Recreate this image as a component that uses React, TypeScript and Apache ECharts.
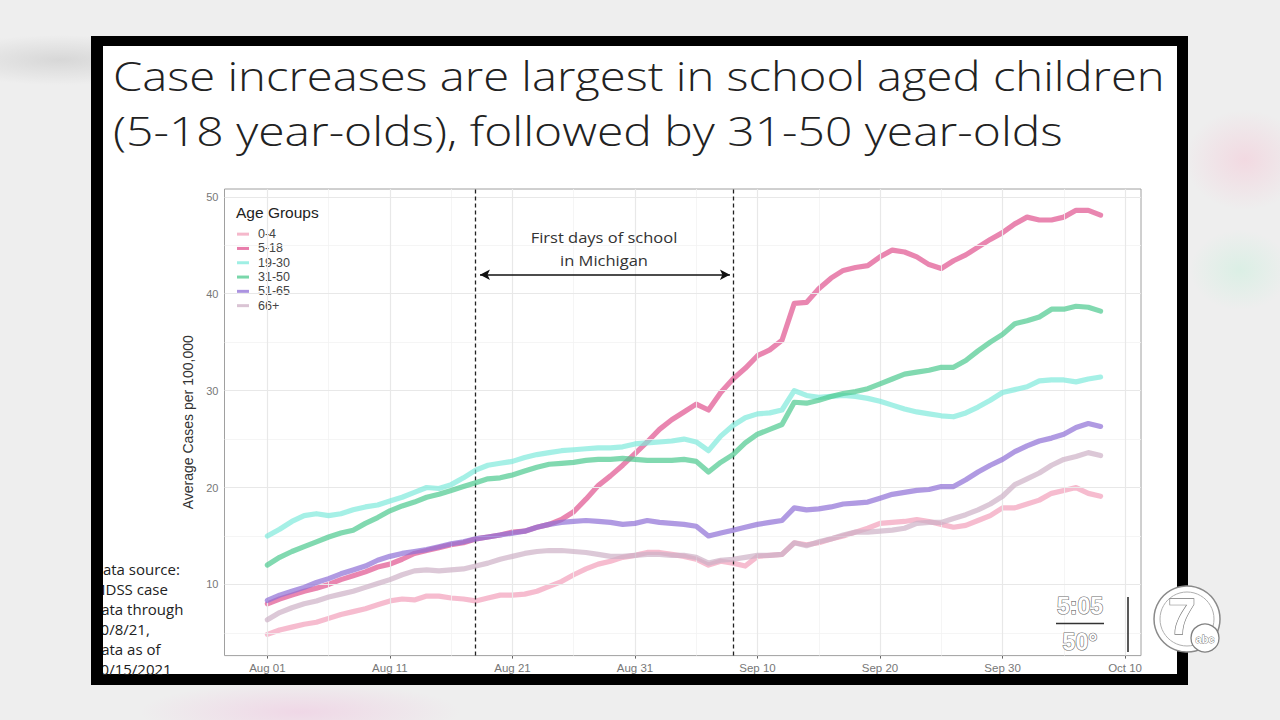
import React, { useEffect, useRef } from "react";
import * as echarts from "echarts";

// ---------- data ----------
const startDate = "2021-08-01"; // day 0
const xTickDays = [0, 10, 20, 30, 40, 50, 60, 70];
const xTickLabels = ["Aug 01", "Aug 11", "Aug 21", "Aug 31", "Sep 10", "Sep 20", "Sep 30", "Oct 10"];
const yTicks = [10, 20, 30, 40, 50];
const groups = ["0-4", "5-18", "19-30", "31-50", "51-65", "66+"];
const groupColors = ["#f2a0ba", "#e0528f", "#7feadb", "#4cc98e", "#8f6fd6", "#cdb0c6"];

const age0_4 = [
  4.85, 5.3, 5.6, 5.9, 6.1, 6.5, 6.9, 7.2, 7.5, 7.9,
  8.3, 8.5, 8.4, 8.8, 8.8, 8.6, 8.5, 8.3, 8.6, 8.9,
  8.9, 9.0, 9.3, 9.8, 10.3, 11.0, 11.6, 12.1, 12.4, 12.8,
  13.0, 13.3, 13.3, 13.1, 12.9, 12.6, 12.0, 12.4, 12.2, 11.9,
  12.9, 13.0, 13.1, 14.3, 14.1, 14.3, 14.7, 15.0, 15.4, 15.8,
  16.3, 16.4, 16.5, 16.7, 16.5, 16.2, 15.9, 16.1, 16.6, 17.1,
  17.9, 17.9, 18.3, 18.7, 19.4, 19.7, 20.0, 19.4, 19.1,
];
const age5_18 = [
  8.0, 8.5, 8.9, 9.3, 9.6, 10.0, 10.5, 10.9, 11.3, 11.8,
  12.1, 12.6, 13.2, 13.5, 13.8, 14.1, 14.3, 14.7, 14.9, 15.1,
  15.4, 15.5, 15.9, 16.2, 16.7, 17.5, 18.8, 20.2, 21.2, 22.3,
  23.5, 24.7, 26.0, 27.0, 27.8, 28.6, 28.0, 29.8, 31.2, 32.3,
  33.6, 34.2, 35.2, 39.0, 39.1, 40.5, 41.6, 42.4, 42.7, 42.9,
  43.8, 44.5, 44.3, 43.8, 43.0, 42.6, 43.4, 44.0, 44.8, 45.6,
  46.3, 47.2, 47.9, 47.6, 47.6, 47.9, 48.6, 48.6, 48.1,
];
const age19_30 = [
  15.0, 15.7, 16.5, 17.1, 17.3, 17.1, 17.3, 17.7, 18.0, 18.2,
  18.6, 19.0, 19.5, 20.0, 19.9, 20.3, 21.0, 21.8, 22.3, 22.5,
  22.7, 23.1, 23.4, 23.6, 23.8, 23.9, 24.0, 24.1, 24.1, 24.2,
  24.5, 24.6, 24.7, 24.8, 25.0, 24.7, 23.8, 25.3, 26.4, 27.2,
  27.6, 27.7, 28.0, 30.0, 29.5, 29.3, 29.4, 29.5, 29.4, 29.2,
  28.9, 28.5, 28.1, 27.8, 27.6, 27.4, 27.3, 27.7, 28.3, 29.0,
  29.8, 30.1, 30.4, 31.0, 31.1, 31.1, 30.9, 31.2, 31.4,
];
const age31_50 = [
  12.0, 12.8, 13.4, 13.9, 14.4, 14.9, 15.3, 15.6, 16.3, 16.9,
  17.6, 18.1, 18.5, 19.0, 19.3, 19.7, 20.1, 20.5, 20.9, 21.0,
  21.3, 21.7, 22.1, 22.4, 22.5, 22.6, 22.8, 22.9, 22.9, 23.0,
  22.9, 22.8, 22.8, 22.8, 22.9, 22.7, 21.6, 22.6, 23.4, 24.6,
  25.5, 26.0, 26.5, 28.8, 28.7, 29.0, 29.4, 29.7, 29.9, 30.2,
  30.7, 31.2, 31.7, 31.9, 32.1, 32.4, 32.4, 33.1, 34.1, 35.0,
  35.8, 36.9, 37.2, 37.6, 38.4, 38.4, 38.7, 38.6, 38.2,
];
const age51_65 = [
  8.35, 8.9, 9.3, 9.7, 10.2, 10.6, 11.1, 11.5, 11.9, 12.5,
  12.9, 13.2, 13.4, 13.6, 13.9, 14.2, 14.4, 14.7, 14.9, 15.1,
  15.3, 15.5, 15.9, 16.2, 16.4, 16.5, 16.6, 16.5, 16.4, 16.2,
  16.3, 16.6, 16.4, 16.3, 16.2, 16.0, 15.0, 15.3, 15.6, 15.9,
  16.2, 16.4, 16.6, 17.9, 17.7, 17.8, 18.0, 18.3, 18.4, 18.5,
  18.9, 19.3, 19.5, 19.7, 19.8, 20.1, 20.1, 20.8, 21.6, 22.3,
  22.9, 23.7, 24.3, 24.8, 25.1, 25.5, 26.2, 26.6, 26.3,
];
const age66plus = [
  6.35, 7.1, 7.6, 8.0, 8.3, 8.7, 9.0, 9.3, 9.7, 10.1,
  10.5, 11.0, 11.4, 11.5, 11.4, 11.5, 11.6, 11.9, 12.2, 12.6,
  12.9, 13.2, 13.4, 13.5, 13.5, 13.4, 13.3, 13.1, 12.9, 12.9,
  13.0, 13.1, 13.1, 13.0, 13.0, 12.8, 12.2, 12.5, 12.6, 12.8,
  13.0, 13.0, 13.1, 14.3, 14.0, 14.4, 14.7, 15.1, 15.4, 15.4,
  15.5, 15.6, 15.8, 16.3, 16.4, 16.4, 16.8, 17.2, 17.7, 18.3,
  19.1, 20.3, 20.9, 21.5, 22.3, 22.9, 23.2, 23.6, 23.3,
];
const seriesValues = [age0_4, age5_18, age19_30, age31_50, age51_65, age66plus];

// school period (days since Aug 01): Aug 18 -> Sep 08
const schoolStartDay = 17;
const schoolEndDay = 38;
const arrowFrom = 17.35;
const arrowTo = 37.75;
const arrowLevel = 41.95;

const titleLines = [
  "Case increases are largest in school aged children",
  "(5-18 year-olds), followed by 31-50 year-olds",
];
const sourceText = "Data source:\nMDSS case\ndata through\n10/8/21,\ndata as of\n10/15/2021";

export default function App() {
  const ref = useRef<HTMLDivElement>(null);

  useEffect(() => {
    const chart = echarts.init(ref.current!, undefined, { renderer: "svg" });

    const majorX = xTickDays;
    const minorX = xTickDays.slice(0, -1).map((d) => d + 5);
    const majorY = yTicks;
    const minorY = [5, 15, 25, 35, 45];

    const gridLines = [
      ...minorX.map((d) => ({ xAxis: d, lineStyle: { color: "#f3f3f3", width: 0.8, type: "solid" } })),
      ...minorY.map((v) => ({ yAxis: v, lineStyle: { color: "#f3f3f3", width: 0.8, type: "solid" } })),
      ...majorX.map((d) => ({ xAxis: d, lineStyle: { color: "#e8e8e8", width: 1.2, type: "solid" } })),
      ...majorY.map((v) => ({ yAxis: v, lineStyle: { color: "#e8e8e8", width: 1.2, type: "solid" } })),
    ];

    const dataSeries = groups.map((g, i) => ({
      name: g,
      type: "line",
      data: seriesValues[i].map((v, d) => [d, v]),
      showSymbol: false,
      symbol: "none",
      silent: true,
      z: 3 + i,
      itemStyle: { color: groupColors[i], opacity: 0.75 },
      lineStyle: { width: 5.2, color: groupColors[i], opacity: 0.7, cap: "round", join: "round" },
    }));

    const font = "Liberation Sans, Arial, sans-serif";
    const calib = "Open Sans, Lato, sans-serif";

    chart.setOption({
      animation: false,
      backgroundColor: "transparent",
      grid: {
        left: 224.5,
        top: 189,
        width: 916.5,
        height: 466.6,
        containLabel: false,
        outerBoundsMode: "none",
        show: true,
        backgroundColor: "transparent",
        borderColor: "#a0a0a0",
        borderWidth: 1,
      },
      legend: {
        data: groups,
        orient: "vertical",
        left: 237,
        top: 227,
        padding: 0,
        itemGap: 0,
        icon: "rect",
        itemWidth: 12,
        itemHeight: 3,
        selectedMode: false,
        itemStyle: { opacity: 0.75 },
        textStyle: {
          fontFamily: font,
          fontSize: 12.5,
          color: "#444",
          lineHeight: 14.3,
          padding: [0, 0, 0, 4],
        },
      },
      xAxis: {
        type: "value",
        min: -3.5,
        max: 71.3,
        splitLine: { show: false },
        axisLine: { show: false },
        axisTick: { show: true, customValues: xTickDays, length: 3, lineStyle: { color: "#666" } },
        axisLabel: {
          customValues: xTickDays,
          formatter: (v: number) => {
            const idx = xTickDays.indexOf(Math.round(v));
            return idx >= 0 ? xTickLabels[idx] : "";
          },
          color: "#777",
          fontSize: 11.5,
          fontFamily: font,
          margin: 6,
        },
      },
      yAxis: {
        type: "value",
        min: 2.66,
        max: 50.8,
        name: "Average Cases per 100,000",
        nameLocation: "middle",
        nameRotate: 90,
        nameGap: 25,
        nameTextStyle: { fontFamily: font, fontSize: 14, color: "#333" },
        splitLine: { show: false },
        axisLine: { show: false },
        axisTick: { show: true, customValues: yTicks, length: 3, lineStyle: { color: "#666" } },
        axisLabel: {
          customValues: yTicks,
          color: "#777",
          fontSize: 11,
          fontFamily: font,
          margin: 6,
        },
      },
      series: [
        {
          name: "__grid",
          type: "line",
          data: [],
          silent: true,
          z: 1,
          markLine: {
            silent: true,
            symbol: ["none", "none"],
            label: { show: false },
            emphasis: { disabled: true },
            data: gridLines,
          },
        },
        ...dataSeries,
        {
          name: "__school",
          type: "line",
          data: [],
          silent: true,
          z: 20,
          markLine: {
            silent: true,
            symbol: ["none", "none"],
            label: { show: false },
            emphasis: { disabled: true },
            data: [
              { xAxis: schoolStartDay, lineStyle: { color: "#222", width: 1.3, type: [4, 3] } },
              { xAxis: schoolEndDay, lineStyle: { color: "#222", width: 1.3, type: [4, 3] } },
              [
                { coord: [arrowFrom, arrowLevel], symbol: "arrow", symbolSize: [8, 10] },
                {
                  coord: [arrowTo, arrowLevel],
                  symbol: "arrow",
                  symbolSize: [8, 10],
                  lineStyle: { color: "#111", width: 1.6, type: "solid" },
                },
              ],
            ],
            lineStyle: { color: "#111", width: 1.6, type: "solid" },
            itemStyle: { color: "#111" },
          },
        },
      ],
      graphic: [
        {
          type: "text",
          x: 113,
          y: 75,
          z: 50,
          scaleX: 1.18,
          style: {
            text: titleLines[0],
            fontFamily: calib,
            fontWeight: 300,
            fontSize: 40,
            fill: "#222",
            align: "left",
            verticalAlign: "middle",
          },
        },
        {
          type: "text",
          x: 113,
          y: 131,
          z: 50,
          scaleX: 1.2,
          style: {
            text: titleLines[1],
            fontFamily: calib,
            fontWeight: 300,
            fontSize: 40,
            fill: "#222",
            align: "left",
            verticalAlign: "middle",
          },
        },
        {
          type: "text",
          x: 236,
          y: 212,
          z: 50,
          style: { text: "Age Groups", fontFamily: font, fontSize: 15.5, fill: "#222", verticalAlign: "middle" },
        },
        {
          type: "text",
          x: 604,
          y: 237,
          z: 50,
          scaleX: 1.1,
          style: {
            text: "First days of school",
            fontFamily: calib,
            fontSize: 15,
            fill: "#333",
            align: "center",
            verticalAlign: "middle",
          },
        },
        {
          type: "text",
          x: 604,
          y: 260,
          z: 50,
          scaleX: 1.1,
          style: {
            text: "in Michigan",
            fontFamily: calib,
            fontSize: 15,
            fill: "#333",
            align: "center",
            verticalAlign: "middle",
          },
        },
        {
          type: "text",
          x: 92,
          y: 559,
          z: 50,
          style: {
            text: sourceText,
            fontFamily: calib,
            fontSize: 15,
            lineHeight: 20,
            fill: "#222",
            align: "left",
            verticalAlign: "top",
          },
        },
        // left black frame strip over the clipped note
        { type: "rect", z: 60, shape: { x: 91, y: 36, width: 12, height: 649 }, style: { fill: "#000" } },
        // clock / temperature bug
        {
          type: "text",
          x: 1080,
          y: 606,
          z: 70,
          style: {
            text: "5:05",
            fontFamily: font,
            fontWeight: "bold",
            fontSize: 23,
            fill: "#ffffff",
            stroke: "#6a6a6a",
            lineWidth: 1.2,
            align: "center",
            verticalAlign: "middle",
          },
        },
        { type: "line", z: 70, shape: { x1: 1056, y1: 623.5, x2: 1104, y2: 623.5 }, style: { stroke: "#333", lineWidth: 1.5 } },
        {
          type: "text",
          x: 1080,
          y: 642,
          z: 70,
          style: {
            text: "50°",
            fontFamily: font,
            fontWeight: "bold",
            fontSize: 23,
            fill: "#ffffff",
            stroke: "#6a6a6a",
            lineWidth: 1.2,
            align: "center",
            verticalAlign: "middle",
          },
        },
        { type: "line", z: 70, shape: { x1: 1128, y1: 597, x2: 1128, y2: 652 }, style: { stroke: "#222", lineWidth: 1.5 } },
        { type: "circle", z: 70, shape: { cx: 1187, cy: 619, r: 33 }, style: { fill: "#ffffff", stroke: "#8a8a8a", lineWidth: 1.5 } },
        { type: "circle", z: 71, shape: { cx: 1187, cy: 619, r: 27 }, style: { fill: "none", stroke: "#b0b0b0", lineWidth: 1 } },
        {
          type: "text",
          x: 1182,
          y: 617,
          z: 72,
          style: {
            text: "7",
            fontFamily: font,
            fontWeight: "bold",
            fontSize: 50,
            fill: "#ffffff",
            stroke: "#777",
            lineWidth: 1.3,
            align: "center",
            verticalAlign: "middle",
          },
        },
        { type: "circle", z: 73, shape: { cx: 1205, cy: 638, r: 14 }, style: { fill: "#ffffff", stroke: "#808080", lineWidth: 1.3 } },
        {
          type: "text",
          x: 1205,
          y: 638.5,
          z: 74,
          style: {
            text: "abc",
            fontFamily: font,
            fontWeight: "bold",
            fontSize: 11,
            fill: "#ffffff",
            stroke: "#707070",
            lineWidth: 0.8,
            align: "center",
            verticalAlign: "middle",
          },
        },
      ],
    });

    return () => chart.dispose();
  }, []);

  return (
    <div
      style={{
        position: "fixed",
        left: 0,
        top: 0,
        width: 1280,
        height: 720,
        overflow: "hidden",
        background:
          "radial-gradient(ellipse 60px 50px at 1245px 160px, rgba(245,200,215,0.55), rgba(245,200,215,0) 100%)," +
          "radial-gradient(ellipse 50px 40px at 1240px 270px, rgba(200,240,220,0.5), rgba(200,240,220,0) 100%)," +
          "radial-gradient(ellipse 160px 30px at 300px 712px, rgba(240,200,225,0.6), rgba(240,200,225,0) 100%)," +
          "radial-gradient(ellipse 120px 25px at 60px 60px, rgba(200,200,200,0.6), rgba(200,200,200,0) 100%)," +
          "#eeeeee",
      }}
    >
      <div style={{ position: "absolute", left: 91, top: 36, width: 1097, height: 649, background: "#000" }} />
      <div style={{ position: "absolute", left: 103, top: 46, width: 1074, height: 628, background: "#fff" }} />
      <div ref={ref} style={{ position: "absolute", left: 0, top: 0, width: 1280, height: 720 }} />
    </div>
  );
}
